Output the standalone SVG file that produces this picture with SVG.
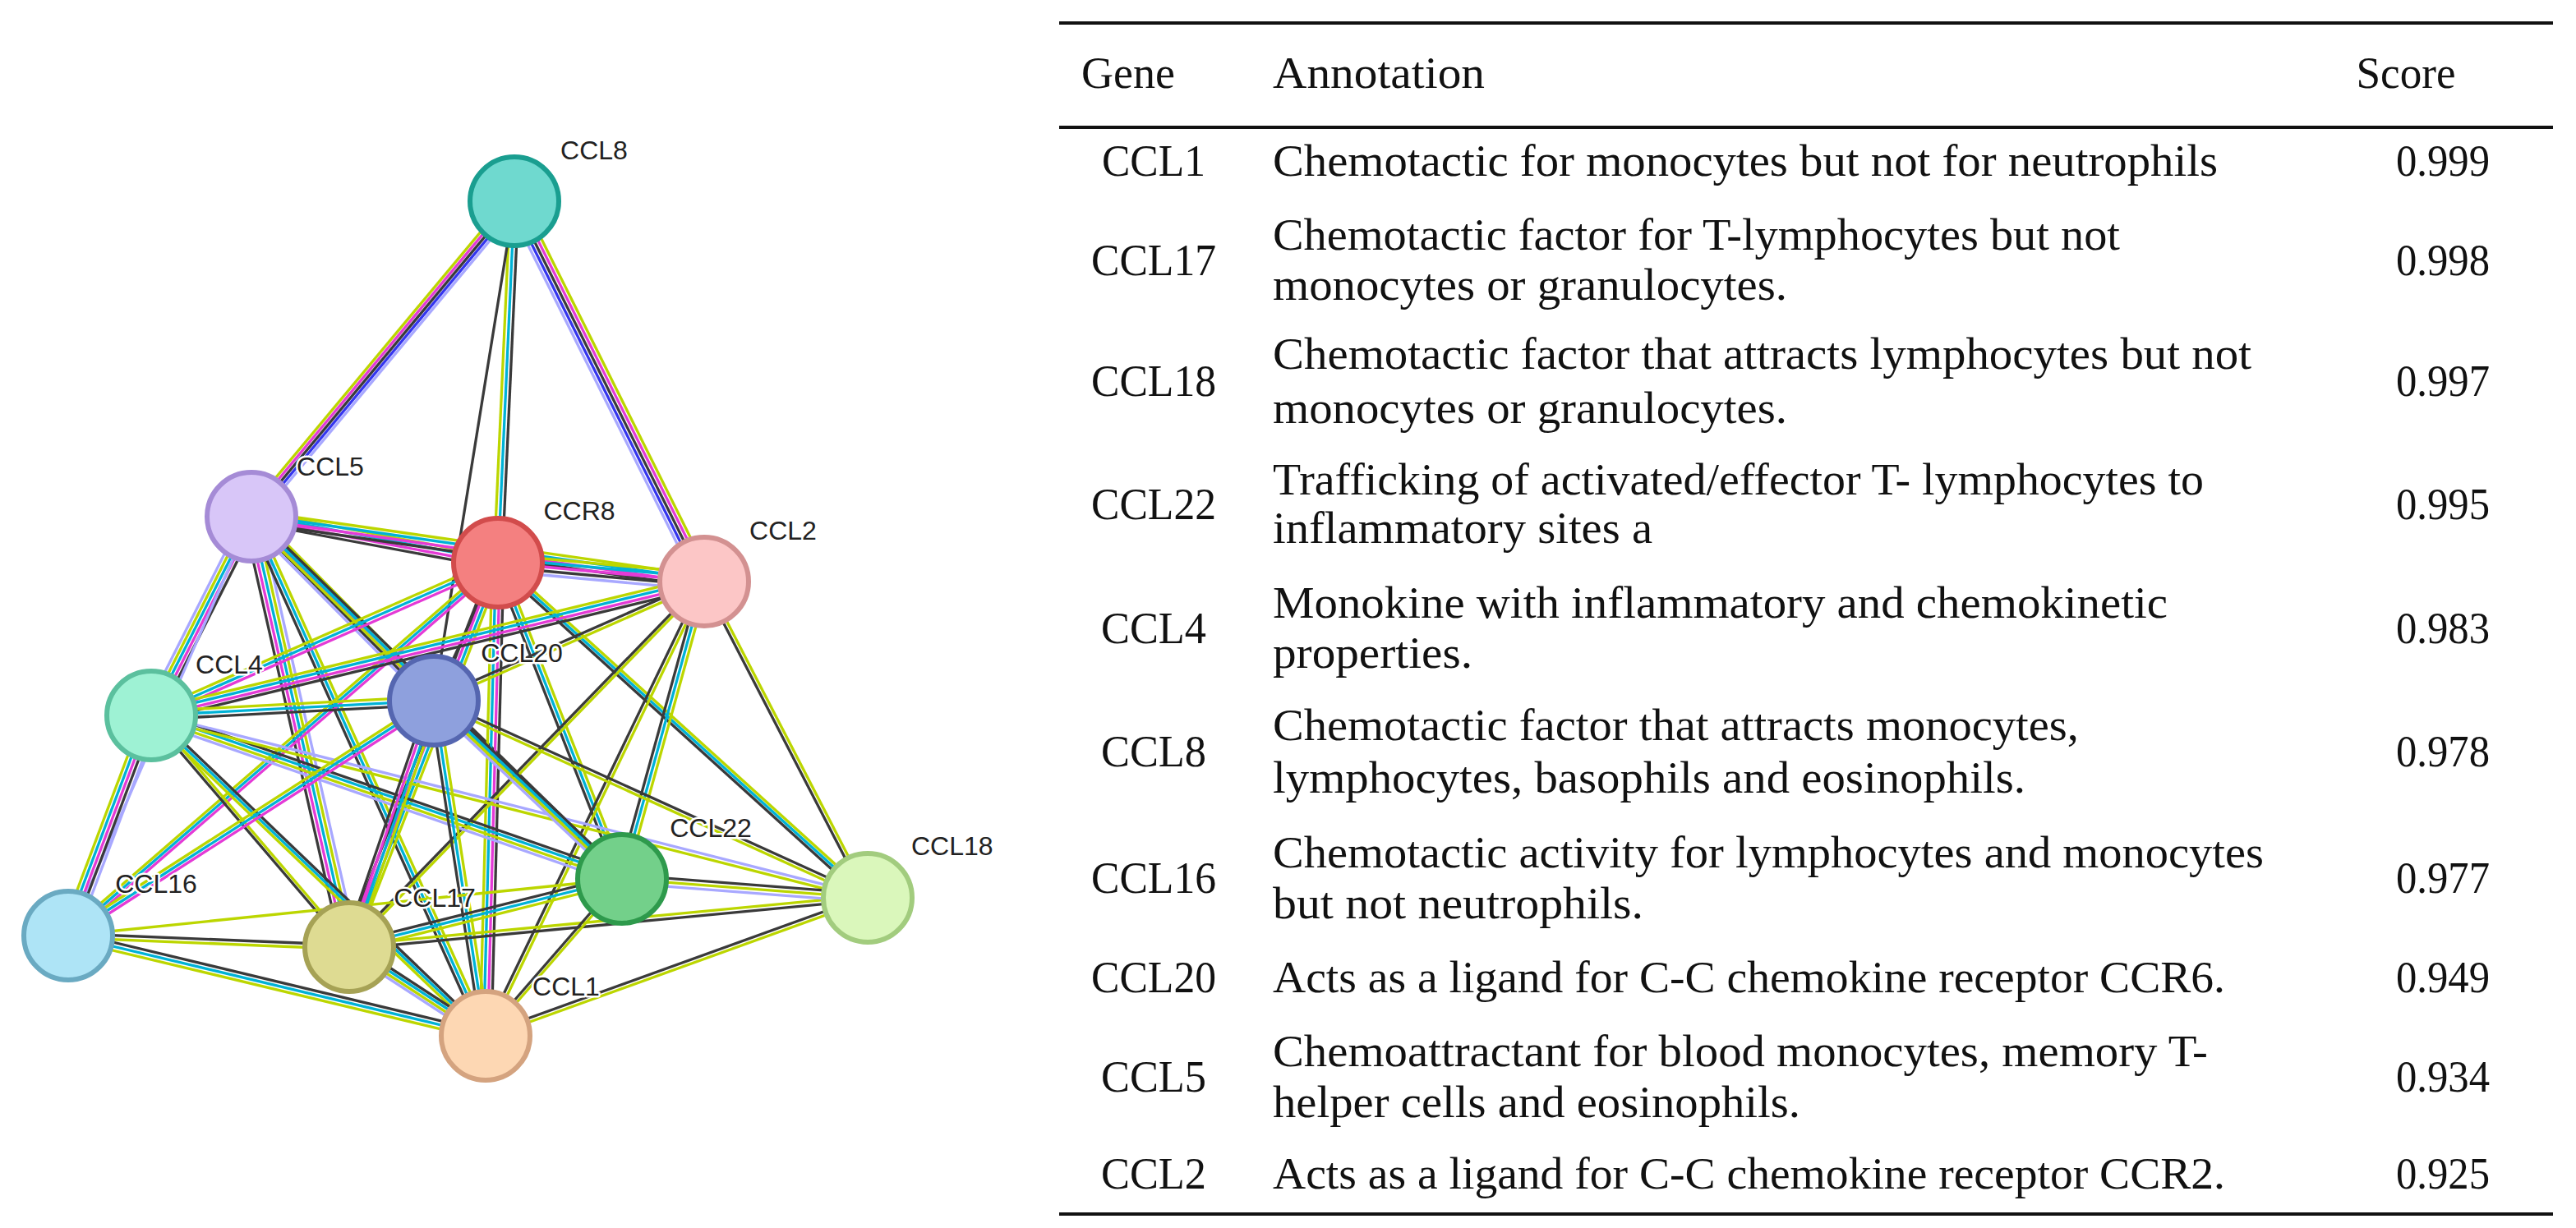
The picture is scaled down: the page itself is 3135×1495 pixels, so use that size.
<svg xmlns="http://www.w3.org/2000/svg" xmlns:xlink="http://www.w3.org/1999/xlink" width="3135" height="1495" viewBox="0 0 3135 1495">
<style>
.y{stroke:#bcd600;stroke-width:3.3;fill:none}
.k{stroke:#3a3a3a;stroke-width:3.3;fill:none}
.c{stroke:#00b2d6;stroke-width:3.3;fill:none}
.m{stroke:#e43ad6;stroke-width:3.3;fill:none}
.b{stroke:#3535ee;stroke-width:3.3;fill:none}
.l{stroke:#a8a8ff;stroke-width:3.3;fill:none}
.node{stroke-width:6}
.lab{font-family:"Liberation Sans",Arial,sans-serif;font-size:32px;fill:#222;stroke:#fff;stroke-width:5;paint-order:stroke;stroke-linejoin:round}
.t{font-family:"Liberation Serif","Times New Roman",serif;font-size:54px;fill:#111}
.rule{stroke:#111;stroke-width:4}
</style>
<defs>
<line id="e8_5" x1="626" y1="245" x2="306" y2="629"/>
<line id="e8_2" x1="626" y1="245" x2="857" y2="708"/>
<line id="e8_r8" x1="626" y1="245" x2="606" y2="685"/>
<line id="e8_20" x1="626" y1="245" x2="528" y2="853"/>
<line id="e5_r8" x1="306" y1="629" x2="606" y2="685"/>
<line id="e5_2" x1="306" y1="629" x2="857" y2="708"/>
<line id="e5_4" x1="306" y1="629" x2="184" y2="871"/>
<line id="e5_20" x1="306" y1="629" x2="528" y2="853"/>
<line id="e5_16" x1="306" y1="629" x2="83" y2="1139"/>
<line id="e5_17" x1="306" y1="629" x2="425" y2="1153"/>
<line id="e5_1" x1="306" y1="629" x2="591" y2="1261"/>
<line id="e5_22" x1="306" y1="629" x2="757" y2="1070"/>
<line id="er8_2" x1="606" y1="685" x2="857" y2="708"/>
<line id="er8_4" x1="606" y1="685" x2="184" y2="871"/>
<line id="er8_20" x1="606" y1="685" x2="528" y2="853"/>
<line id="er8_16" x1="606" y1="685" x2="83" y2="1139"/>
<line id="er8_17" x1="606" y1="685" x2="425" y2="1153"/>
<line id="er8_1" x1="606" y1="685" x2="591" y2="1261"/>
<line id="er8_22" x1="606" y1="685" x2="757" y2="1070"/>
<line id="er8_18" x1="606" y1="685" x2="1056" y2="1093"/>
<line id="e2_4" x1="857" y1="708" x2="184" y2="871"/>
<line id="e2_20" x1="857" y1="708" x2="528" y2="853"/>
<line id="e2_17" x1="857" y1="708" x2="425" y2="1153"/>
<line id="e2_1" x1="857" y1="708" x2="591" y2="1261"/>
<line id="e2_22" x1="857" y1="708" x2="757" y2="1070"/>
<line id="e2_18" x1="857" y1="708" x2="1056" y2="1093"/>
<line id="e4_20" x1="184" y1="871" x2="528" y2="853"/>
<line id="e4_16" x1="184" y1="871" x2="83" y2="1139"/>
<line id="e4_17" x1="184" y1="871" x2="425" y2="1153"/>
<line id="e4_1" x1="184" y1="871" x2="591" y2="1261"/>
<line id="e4_22" x1="184" y1="871" x2="757" y2="1070"/>
<line id="e4_18" x1="184" y1="871" x2="1056" y2="1093"/>
<line id="e20_16" x1="528" y1="853" x2="83" y2="1139"/>
<line id="e20_17" x1="528" y1="853" x2="425" y2="1153"/>
<line id="e20_1" x1="528" y1="853" x2="591" y2="1261"/>
<line id="e20_22" x1="528" y1="853" x2="757" y2="1070"/>
<line id="e20_18" x1="528" y1="853" x2="1056" y2="1093"/>
<line id="e16_17" x1="83" y1="1139" x2="425" y2="1153"/>
<line id="e16_1" x1="83" y1="1139" x2="591" y2="1261"/>
<line id="e16_22" x1="83" y1="1139" x2="757" y2="1070"/>
<line id="e17_22" x1="425" y1="1153" x2="757" y2="1070"/>
<line id="e17_1" x1="425" y1="1153" x2="591" y2="1261"/>
<line id="e17_18" x1="425" y1="1153" x2="1056" y2="1093"/>
<line id="e22_1" x1="757" y1="1070" x2="591" y2="1261"/>
<line id="e22_18" x1="757" y1="1070" x2="1056" y2="1093"/>
<line id="e1_18" x1="591" y1="1261" x2="1056" y2="1093"/>
</defs>
<g id="connectors">
<use xlink:href="#e8_5" class="y" transform="translate(-10,0)"/><use xlink:href="#e8_5" class="m" transform="translate(-5,0)"/><use xlink:href="#e8_5" class="k" transform="translate(0,0)"/><use xlink:href="#e8_5" class="b" transform="translate(5,0)"/><use xlink:href="#e8_5" class="l" transform="translate(10,0)"/>
<use xlink:href="#e8_2" class="l" transform="translate(-10,0)"/><use xlink:href="#e8_2" class="b" transform="translate(-5,0)"/><use xlink:href="#e8_2" class="k" transform="translate(0,0)"/><use xlink:href="#e8_2" class="m" transform="translate(5,0)"/><use xlink:href="#e8_2" class="y" transform="translate(10,0)"/>
<use xlink:href="#e8_r8" class="y" transform="translate(-5,0)"/><use xlink:href="#e8_r8" class="c" transform="translate(0,0)"/><use xlink:href="#e8_r8" class="k" transform="translate(5,0)"/>
<use xlink:href="#e8_20" class="k"/>
<use xlink:href="#e5_r8" class="y" transform="translate(0,-7)"/><use xlink:href="#e5_r8" class="c" transform="translate(0,-2.5)"/><use xlink:href="#e5_r8" class="m" transform="translate(0,2.5)"/><use xlink:href="#e5_r8" class="k" transform="translate(0,7)"/>
<use xlink:href="#e5_2" class="y" transform="translate(0,-7)"/><use xlink:href="#e5_2" class="c" transform="translate(0,-2.5)"/><use xlink:href="#e5_2" class="m" transform="translate(0,2.5)"/><use xlink:href="#e5_2" class="k" transform="translate(0,7)"/>
<use xlink:href="#e5_4" class="l" transform="translate(-10,0)"/><use xlink:href="#e5_4" class="y" transform="translate(-5,0)"/><use xlink:href="#e5_4" class="c" transform="translate(0,0)"/><use xlink:href="#e5_4" class="m" transform="translate(5,0)"/><use xlink:href="#e5_4" class="k" transform="translate(10,0)"/>
<use xlink:href="#e5_20" class="y" transform="translate(0,-10)"/><use xlink:href="#e5_20" class="c" transform="translate(0,-5)"/><use xlink:href="#e5_20" class="m" transform="translate(0,0)"/><use xlink:href="#e5_20" class="k" transform="translate(0,5)"/><use xlink:href="#e5_20" class="l" transform="translate(0,10)"/>
<use xlink:href="#e5_16" class="l"/>
<use xlink:href="#e5_17" class="k" transform="translate(-10,0)"/><use xlink:href="#e5_17" class="m" transform="translate(-5,0)"/><use xlink:href="#e5_17" class="c" transform="translate(0,0)"/><use xlink:href="#e5_17" class="y" transform="translate(5,0)"/><use xlink:href="#e5_17" class="l" transform="translate(10,0)"/>
<use xlink:href="#e5_1" class="k" transform="translate(-5,0)"/><use xlink:href="#e5_1" class="c" transform="translate(0,0)"/><use xlink:href="#e5_1" class="y" transform="translate(5,0)"/>
<use xlink:href="#e5_22" class="k" transform="translate(0,-5)"/><use xlink:href="#e5_22" class="c" transform="translate(0,0)"/><use xlink:href="#e5_22" class="y" transform="translate(0,5)"/>
<use xlink:href="#er8_2" class="y" transform="translate(0,-10)"/><use xlink:href="#er8_2" class="c" transform="translate(0,-5)"/><use xlink:href="#er8_2" class="m" transform="translate(0,0)"/><use xlink:href="#er8_2" class="k" transform="translate(0,5)"/><use xlink:href="#er8_2" class="l" transform="translate(0,10)"/>
<use xlink:href="#er8_4" class="y" transform="translate(0,-5)"/><use xlink:href="#er8_4" class="c" transform="translate(0,0)"/><use xlink:href="#er8_4" class="m" transform="translate(0,5)"/>
<use xlink:href="#er8_20" class="k"/>
<use xlink:href="#er8_16" class="y" transform="translate(0,-5)"/><use xlink:href="#er8_16" class="c" transform="translate(0,0)"/><use xlink:href="#er8_16" class="m" transform="translate(0,5)"/>
<use xlink:href="#er8_17" class="k" transform="translate(-7,0)"/><use xlink:href="#er8_17" class="m" transform="translate(-2.5,0)"/><use xlink:href="#er8_17" class="c" transform="translate(2.5,0)"/><use xlink:href="#er8_17" class="y" transform="translate(7,0)"/>
<use xlink:href="#er8_1" class="y" transform="translate(-7,0)"/><use xlink:href="#er8_1" class="c" transform="translate(-2.5,0)"/><use xlink:href="#er8_1" class="m" transform="translate(2.5,0)"/><use xlink:href="#er8_1" class="k" transform="translate(7,0)"/>
<use xlink:href="#er8_22" class="k" transform="translate(-5,0)"/><use xlink:href="#er8_22" class="c" transform="translate(0,0)"/><use xlink:href="#er8_22" class="y" transform="translate(5,0)"/>
<use xlink:href="#er8_18" class="y" transform="translate(0,-5)"/><use xlink:href="#er8_18" class="c" transform="translate(0,0)"/><use xlink:href="#er8_18" class="k" transform="translate(0,5)"/>
<use xlink:href="#e2_4" class="y" transform="translate(0,-7)"/><use xlink:href="#e2_4" class="c" transform="translate(0,-2.5)"/><use xlink:href="#e2_4" class="m" transform="translate(0,2.5)"/><use xlink:href="#e2_4" class="k" transform="translate(0,7)"/>
<use xlink:href="#e2_20" class="k" transform="translate(0,-2.5)"/><use xlink:href="#e2_20" class="y" transform="translate(0,2.5)"/>
<use xlink:href="#e2_17" class="k" transform="translate(-2.5,0)"/><use xlink:href="#e2_17" class="y" transform="translate(2.5,0)"/>
<use xlink:href="#e2_1" class="k" transform="translate(-2.5,0)"/><use xlink:href="#e2_1" class="y" transform="translate(2.5,0)"/>
<use xlink:href="#e2_22" class="k" transform="translate(-5,0)"/><use xlink:href="#e2_22" class="c" transform="translate(0,0)"/><use xlink:href="#e2_22" class="y" transform="translate(5,0)"/>
<use xlink:href="#e2_18" class="k" transform="translate(-2.5,0)"/><use xlink:href="#e2_18" class="y" transform="translate(2.5,0)"/>
<use xlink:href="#e4_20" class="y" transform="translate(0,-5)"/><use xlink:href="#e4_20" class="c" transform="translate(0,0)"/><use xlink:href="#e4_20" class="k" transform="translate(0,5)"/>
<use xlink:href="#e4_16" class="y" transform="translate(-10,0)"/><use xlink:href="#e4_16" class="c" transform="translate(-5,0)"/><use xlink:href="#e4_16" class="m" transform="translate(0,0)"/><use xlink:href="#e4_16" class="k" transform="translate(5,0)"/><use xlink:href="#e4_16" class="l" transform="translate(10,0)"/>
<use xlink:href="#e4_17" class="k" transform="translate(-2.5,0)"/><use xlink:href="#e4_17" class="y" transform="translate(2.5,0)"/>
<use xlink:href="#e4_1" class="k" transform="translate(0,-5)"/><use xlink:href="#e4_1" class="c" transform="translate(0,0)"/><use xlink:href="#e4_1" class="y" transform="translate(0,5)"/>
<use xlink:href="#e4_22" class="k" transform="translate(0,-7)"/><use xlink:href="#e4_22" class="c" transform="translate(0,-2.5)"/><use xlink:href="#e4_22" class="y" transform="translate(0,2.5)"/><use xlink:href="#e4_22" class="l" transform="translate(0,7)"/>
<use xlink:href="#e4_18" class="l" transform="translate(0,-2.5)"/><use xlink:href="#e4_18" class="y" transform="translate(0,2.5)"/>
<use xlink:href="#e20_16" class="y" transform="translate(0,-5)"/><use xlink:href="#e20_16" class="c" transform="translate(0,0)"/><use xlink:href="#e20_16" class="m" transform="translate(0,5)"/>
<use xlink:href="#e20_17" class="k" transform="translate(-7,0)"/><use xlink:href="#e20_17" class="m" transform="translate(-2.5,0)"/><use xlink:href="#e20_17" class="c" transform="translate(2.5,0)"/><use xlink:href="#e20_17" class="y" transform="translate(7,0)"/>
<use xlink:href="#e20_1" class="k" transform="translate(-5,0)"/><use xlink:href="#e20_1" class="c" transform="translate(0,0)"/><use xlink:href="#e20_1" class="y" transform="translate(5,0)"/>
<use xlink:href="#e20_22" class="k" transform="translate(0,-7)"/><use xlink:href="#e20_22" class="c" transform="translate(0,-2.5)"/><use xlink:href="#e20_22" class="y" transform="translate(0,2.5)"/><use xlink:href="#e20_22" class="l" transform="translate(0,7)"/>
<use xlink:href="#e20_18" class="k" transform="translate(0,-2.5)"/><use xlink:href="#e20_18" class="y" transform="translate(0,2.5)"/>
<use xlink:href="#e16_17" class="k" transform="translate(0,-2.5)"/><use xlink:href="#e16_17" class="y" transform="translate(0,2.5)"/>
<use xlink:href="#e16_1" class="k" transform="translate(0,-5)"/><use xlink:href="#e16_1" class="c" transform="translate(0,0)"/><use xlink:href="#e16_1" class="y" transform="translate(0,5)"/>
<use xlink:href="#e16_22" class="y"/>
<use xlink:href="#e17_22" class="k" transform="translate(0,-5)"/><use xlink:href="#e17_22" class="c" transform="translate(0,0)"/><use xlink:href="#e17_22" class="y" transform="translate(0,5)"/>
<use xlink:href="#e17_1" class="k" transform="translate(0,-7)"/><use xlink:href="#e17_1" class="c" transform="translate(0,-2.5)"/><use xlink:href="#e17_1" class="y" transform="translate(0,2.5)"/><use xlink:href="#e17_1" class="l" transform="translate(0,7)"/>
<use xlink:href="#e17_18" class="y" transform="translate(0,-2.5)"/><use xlink:href="#e17_18" class="k" transform="translate(0,2.5)"/>
<use xlink:href="#e22_1" class="k" transform="translate(-2.5,0)"/><use xlink:href="#e22_1" class="y" transform="translate(2.5,0)"/>
<use xlink:href="#e22_18" class="k" transform="translate(0,-5)"/><use xlink:href="#e22_18" class="y" transform="translate(0,0)"/><use xlink:href="#e22_18" class="l" transform="translate(0,5)"/>
<use xlink:href="#e1_18" class="k" transform="translate(0,-2.5)"/><use xlink:href="#e1_18" class="y" transform="translate(0,2.5)"/>
</g>
<g id="CCL8"><circle class="node" cx="626" cy="245" r="54" fill="#6fd9cf" stroke="#1a9e90"/><text class="lab" x="723" y="194" text-anchor="middle">CCL8</text></g>
<g id="CCL5"><circle class="node" cx="306" cy="629" r="54" fill="#d8c6f8" stroke="#a58bd6"/><text class="lab" x="402" y="579" text-anchor="middle">CCL5</text></g>
<g id="CCR8"><circle class="node" cx="606" cy="685" r="54" fill="#f48080" stroke="#d24c4c"/><text class="lab" x="705" y="633" text-anchor="middle">CCR8</text></g>
<g id="CCL2"><circle class="node" cx="857" cy="708" r="54" fill="#fcc6c6" stroke="#d39191"/><text class="lab" x="953" y="657" text-anchor="middle">CCL2</text></g>
<g id="CCL4"><circle class="node" cx="184" cy="871" r="54" fill="#9ef2d4" stroke="#5bc09e"/><text class="lab" x="279" y="820" text-anchor="middle">CCL4</text></g>
<g id="CCL20"><circle class="node" cx="528" cy="853" r="54" fill="#8ea0dd" stroke="#5566b0"/><text class="lab" x="635" y="806" text-anchor="middle">CCL20</text></g>
<g id="CCL22"><circle class="node" cx="757" cy="1070" r="54" fill="#73d08a" stroke="#2e9a4c"/><text class="lab" x="865" y="1019" text-anchor="middle">CCL22</text></g>
<g id="CCL18"><circle class="node" cx="1056" cy="1093" r="54" fill="#daf7bb" stroke="#a2cc7e"/><text class="lab" x="1109" y="1041">CCL18</text></g>
<g id="CCL16"><circle class="node" cx="83" cy="1139" r="54" fill="#aee4f6" stroke="#6aaac2"/><text class="lab" x="190" y="1087" text-anchor="middle">CCL16</text></g>
<g id="CCL17"><circle class="node" cx="425" cy="1153" r="54" fill="#dedb92" stroke="#a6a255"/><text class="lab" x="529" y="1104" text-anchor="middle">CCL17</text></g>
<g id="CCL1"><circle class="node" cx="591" cy="1261" r="54" fill="#fdd7b3" stroke="#d4a37f"/><text class="lab" x="689" y="1212" text-anchor="middle">CCL1</text></g>
<g id="table">
<line class="rule" x1="1289" y1="28" x2="3107" y2="28"/>
<line class="rule" x1="1289" y1="155" x2="3107" y2="155"/>
<line class="rule" x1="1289" y1="1478" x2="3107" y2="1478"/>
<text class="t" x="1373" y="107" text-anchor="middle" textLength="114" lengthAdjust="spacingAndGlyphs">Gene</text>
<text class="t" x="1549" y="107" textLength="258" lengthAdjust="spacingAndGlyphs">Annotation</text>
<text class="t" x="2928" y="107" text-anchor="middle" textLength="121" lengthAdjust="spacingAndGlyphs">Score</text>
<g class="t">
<text x="1404" y="214" text-anchor="middle" textLength="126" lengthAdjust="spacingAndGlyphs">CCL1</text>
<text x="1549" y="214" textLength="1150" lengthAdjust="spacingAndGlyphs">Chemotactic for monocytes but not for neutrophils</text>
<text x="3030" y="214" text-anchor="end" textLength="114" lengthAdjust="spacingAndGlyphs">0.999</text>
<text x="1404" y="335" text-anchor="middle" textLength="152" lengthAdjust="spacingAndGlyphs">CCL17</text>
<text x="1549" y="304" textLength="1031" lengthAdjust="spacingAndGlyphs">Chemotactic factor for T-lymphocytes but not</text>
<text x="1549" y="365" textLength="626" lengthAdjust="spacingAndGlyphs">monocytes or granulocytes.</text>
<text x="3030" y="335" text-anchor="end" textLength="114" lengthAdjust="spacingAndGlyphs">0.998</text>
<text x="1404" y="482" text-anchor="middle" textLength="152" lengthAdjust="spacingAndGlyphs">CCL18</text>
<text x="1549" y="449" textLength="1191" lengthAdjust="spacingAndGlyphs">Chemotactic factor that attracts lymphocytes but not</text>
<text x="1549" y="515" textLength="626" lengthAdjust="spacingAndGlyphs">monocytes or granulocytes.</text>
<text x="3030" y="482" text-anchor="end" textLength="114" lengthAdjust="spacingAndGlyphs">0.997</text>
<text x="1404" y="632" text-anchor="middle" textLength="152" lengthAdjust="spacingAndGlyphs">CCL22</text>
<text x="1549" y="602" textLength="1133" lengthAdjust="spacingAndGlyphs">Trafficking of activated/effector T- lymphocytes to</text>
<text x="1549" y="661" textLength="462" lengthAdjust="spacingAndGlyphs">inflammatory sites a</text>
<text x="3030" y="632" text-anchor="end" textLength="114" lengthAdjust="spacingAndGlyphs">0.995</text>
<text x="1404" y="783" text-anchor="middle" textLength="128" lengthAdjust="spacingAndGlyphs">CCL4</text>
<text x="1549" y="752" textLength="1089" lengthAdjust="spacingAndGlyphs">Monokine with inflammatory and chemokinetic</text>
<text x="1549" y="813" textLength="243" lengthAdjust="spacingAndGlyphs">properties.</text>
<text x="3030" y="783" text-anchor="end" textLength="114" lengthAdjust="spacingAndGlyphs">0.983</text>
<text x="1404" y="933" text-anchor="middle" textLength="128" lengthAdjust="spacingAndGlyphs">CCL8</text>
<text x="1549" y="901" textLength="981" lengthAdjust="spacingAndGlyphs">Chemotactic factor that attracts monocytes,</text>
<text x="1549" y="965" textLength="916" lengthAdjust="spacingAndGlyphs">lymphocytes, basophils and eosinophils.</text>
<text x="3030" y="933" text-anchor="end" textLength="114" lengthAdjust="spacingAndGlyphs">0.978</text>
<text x="1404" y="1087" text-anchor="middle" textLength="152" lengthAdjust="spacingAndGlyphs">CCL16</text>
<text x="1549" y="1056" textLength="1206" lengthAdjust="spacingAndGlyphs">Chemotactic activity for lymphocytes and monocytes</text>
<text x="1549" y="1118" textLength="451" lengthAdjust="spacingAndGlyphs">but not neutrophils.</text>
<text x="3030" y="1087" text-anchor="end" textLength="114" lengthAdjust="spacingAndGlyphs">0.977</text>
<text x="1404" y="1208" text-anchor="middle" textLength="152" lengthAdjust="spacingAndGlyphs">CCL20</text>
<text x="1549" y="1208" textLength="1159" lengthAdjust="spacingAndGlyphs">Acts as a ligand for C-C chemokine receptor CCR6.</text>
<text x="3030" y="1208" text-anchor="end" textLength="114" lengthAdjust="spacingAndGlyphs">0.949</text>
<text x="1404" y="1329" text-anchor="middle" textLength="128" lengthAdjust="spacingAndGlyphs">CCL5</text>
<text x="1549" y="1298" textLength="1138" lengthAdjust="spacingAndGlyphs">Chemoattractant for blood monocytes, memory T-</text>
<text x="1549" y="1360" textLength="642" lengthAdjust="spacingAndGlyphs">helper cells and eosinophils.</text>
<text x="3030" y="1329" text-anchor="end" textLength="114" lengthAdjust="spacingAndGlyphs">0.934</text>
<text x="1404" y="1447" text-anchor="middle" textLength="128" lengthAdjust="spacingAndGlyphs">CCL2</text>
<text x="1549" y="1447" textLength="1159" lengthAdjust="spacingAndGlyphs">Acts as a ligand for C-C chemokine receptor CCR2.</text>
<text x="3030" y="1447" text-anchor="end" textLength="114" lengthAdjust="spacingAndGlyphs">0.925</text>
</g>
</g>
</svg>
